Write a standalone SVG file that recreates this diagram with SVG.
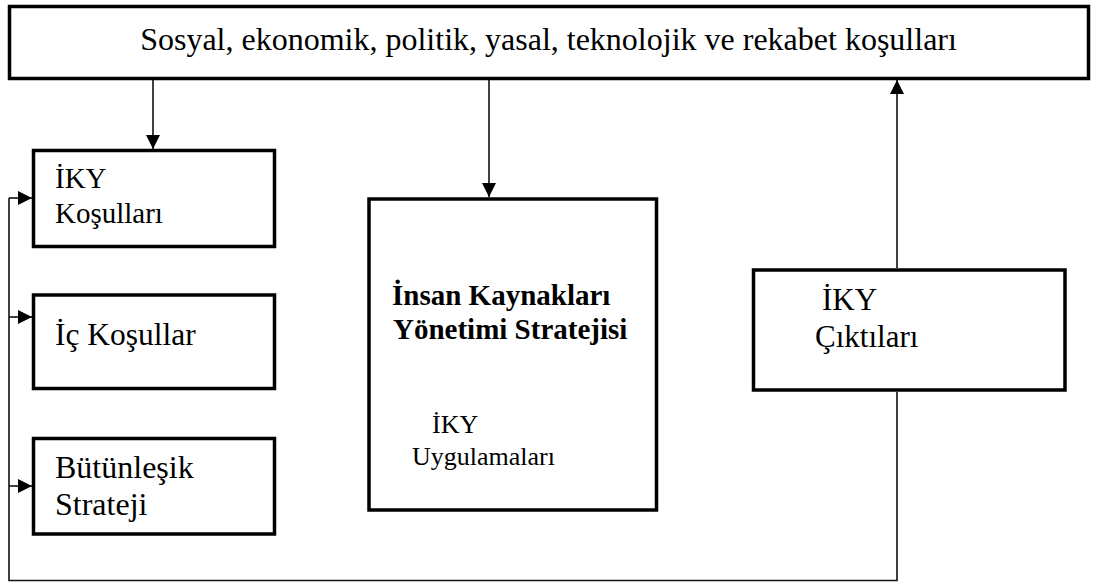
<svg xmlns="http://www.w3.org/2000/svg" width="1094" height="582" viewBox="0 0 1094 582">
  <style>
    .box { fill: #fff; stroke: #000; stroke-width: 3.5; }
    .wire { fill: none; stroke: #111; stroke-width: 1.6; }
    .t { font-family: "Liberation Serif", "Times New Roman", serif; fill: #000; }
    .b { font-weight: bold; }
  </style>
  <defs>
    <marker id="arrow" viewBox="0 0 14 14" refX="14" refY="7" markerWidth="14" markerHeight="14" markerUnits="userSpaceOnUse" orient="auto">
      <path d="M0,0 L14,7 L0,14 Z" fill="#000"/>
    </marker>
  </defs>

  <rect width="1094" height="582" fill="#fff"/>

  <!-- connectors -->
  <g id="connectors">
    <line class="wire" x1="153" y1="80" x2="153" y2="149" marker-end="url(#arrow)"/>
    <line class="wire" x1="489" y1="80" x2="489" y2="197" marker-end="url(#arrow)"/>
    <line class="wire" x1="897" y1="268" x2="897" y2="80" marker-end="url(#arrow)"/>
    <!-- feedback loop from outputs back to the left column -->
    <polyline class="wire" points="897,392 897,580.5 9,580.5 9,198"/>
    <line class="wire" x1="9" y1="198" x2="32" y2="198" marker-end="url(#arrow)"/>
    <line class="wire" x1="9" y1="317" x2="32" y2="317" marker-end="url(#arrow)"/>
    <line class="wire" x1="9" y1="486" x2="32" y2="486" marker-end="url(#arrow)"/>
  </g>

  <g id="environment">
    <rect class="box" x="9.5" y="6.5" width="1079" height="72"/>
    <text class="t" x="548.5" y="50" font-size="32" text-anchor="middle">Sosyal, ekonomik, politik, yasal, teknolojik ve rekabet koşulları</text>
  </g>

  <g id="iky-conditions">
    <rect class="box" x="33.5" y="150.5" width="241" height="96"/>
    <text class="t" x="55" y="188" font-size="29">İKY</text>
    <text class="t" x="55" y="223" font-size="29">Koşulları</text>
  </g>

  <g id="internal-conditions">
    <rect class="box" x="33.5" y="295" width="241" height="93.5"/>
    <text class="t" x="55" y="345" font-size="31.5">İç Koşullar</text>
  </g>

  <g id="integrated-strategy">
    <rect class="box" x="33.5" y="438.5" width="241" height="95.5"/>
    <text class="t" x="55" y="478" font-size="32">Bütünleşik</text>
    <text class="t" x="55" y="515" font-size="32">Strateji</text>
  </g>

  <g id="hrm-strategy">
    <rect class="box" x="369" y="199" width="287.5" height="311"/>
    <text class="t b" x="392" y="305" font-size="29">İnsan Kaynakları</text>
    <text class="t b" x="393" y="339" font-size="29">Yönetimi Stratejisi</text>
    <text class="t" x="432" y="433" font-size="26">İKY</text>
    <text class="t" x="412" y="465" font-size="26">Uygulamaları</text>
  </g>

  <g id="iky-outputs">
    <rect class="box" x="753.5" y="270" width="311.5" height="120"/>
    <text class="t" x="822" y="310" font-size="31">İKY</text>
    <text class="t" x="815" y="347" font-size="31">Çıktıları</text>
  </g>
</svg>
